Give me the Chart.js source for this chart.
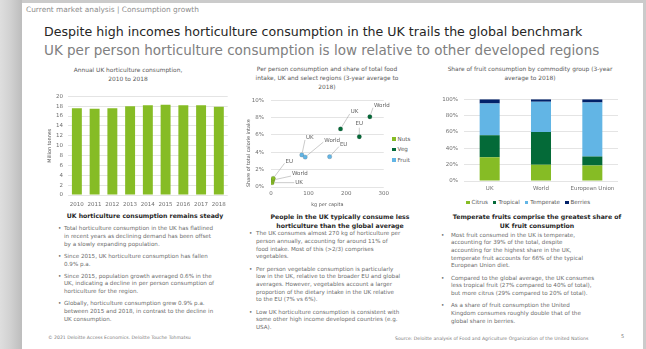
<!DOCTYPE html>
<html>
<head>
<meta charset="utf-8">
<title>Consumption growth</title>
<script src="https://cdn.jsdelivr.net/npm/chart.js@4.4.1/dist/chart.umd.min.js"></script>
<style>
  html, body { margin: 0; padding: 0; }
  body {
    width: 646px; height: 349px; overflow: hidden; position: relative;
    background: #cbcbcb;
    font-family: "DejaVu Sans", Verdana, sans-serif;
  }
  .frame { position: absolute; left: 0; top: 0; width: 22px; height: 349px;
    background: linear-gradient(to right, #dedede, #d2d2d2 45%, #bdbdbd); }
  .slide { position: absolute; left: 22px; top: 3px; width: 621px; height: 346px; background: #fff; }
  .abs { position: absolute; white-space: nowrap; }
  canvas { position: absolute; }

  .crumb { left: 26px; top: 6px; font-size: 7.4px; line-height: 8px; color: #8c8c8c; }
  .headline { left: 44px; top: 24px; font-size: 12.6px; line-height: 16px; color: #262626; }
  .subhead  { left: 44px; top: 42px; font-size: 13.5px; line-height: 16px; color: #808080; }

  .ctitle { font-size: 5.9px; line-height: 9px; color: #595959; text-align: center; }
  .colhead { font-size: 6.2px; line-height: 9px; font-weight: bold; color: #1f1f1f; text-align: center; }

  .bullets { font-size: 5.6px; line-height: 7.7px; color: #6b6b6b; }
  .bullets p { margin: 0 0 4.5px 0; position: relative; }
  .bullets p::before { content: "\2022"; position: absolute; }
  .c1 p::before { left: -6px; }
  .c2 p::before { left: -7px; }
  .c3 p::before { left: -10px; }

  .legend { font-size: 5.6px; line-height: 8px; color: #595959; }
  .legend i { display: inline-block; width: 3.5px; height: 3.5px; margin-right: 2px; vertical-align: 0; }

  .foot { font-size: 4.6px; color: #7a7a7a; }
</style>
</head>
<body>
<div class="frame"></div>
<div class="slide"></div>

<div class="abs crumb">Current market analysis | Consumption growth</div>
<div class="abs headline">Despite high incomes horticulture consumption in the UK trails the global benchmark</div>
<div class="abs subhead">UK per person horticulture consumption is low relative to other developed regions</div>

<!-- chart titles -->
<div class="abs ctitle" style="left:68px; top:65.5px; width:120px;">Annual UK horticulture consumption,<br>2010 to 2018</div>
<div class="abs ctitle" style="left:247px; top:64.5px; width:160px;">Per person consumption and share of total food<br>intake, UK and select regions (3-year average to<br>2018)</div>
<div class="abs ctitle" style="left:437px; top:64.5px; width:186px;">Share of fruit consumption by commodity group (3-year<br>average to 2018)</div>

<canvas id="annualChart" width="192" height="121" style="left:40px; top:88px;"></canvas>
<canvas id="scatterChart" width="152" height="119" style="left:240px; top:90px;"></canvas>
<canvas id="fruitChart" width="185" height="103" style="left:436px; top:90px;"></canvas>

<div id="scatterLegend" class="abs legend" style="left:392px; top:134.5px;"></div>
<div id="fruitLegend" class="abs legend" style="left:466px; top:198px;"></div>

<!-- commentary -->
<div class="abs colhead" style="left:50px; top:211px; width:190px;">UK horticulture consumption remains steady</div>
<div class="abs colhead" style="left:245px; top:211.5px; width:190px;">People in the UK typically consume less<br>horticulture than the global average</div>
<div class="abs colhead" style="left:437px; top:211.5px; width:200px;">Temperate fruits comprise the greatest share of<br>UK fruit consumption</div>

<div class="abs bullets c1" style="left:64px; top:225.2px;">
  <p>Total horticulture consumption in the UK has flatlined<br>in recent years as declining demand has been offset<br>by a slowly expanding population.</p>
  <p>Since 2015, UK horticulture consumption has fallen<br>0.9% p.a.</p>
  <p>Since 2015, population growth averaged 0.6% in the<br>UK, indicating a decline in per person consumption of<br>horticulture for the region.</p>
  <p>Globally, horticulture consumption grew 0.9% p.a.<br>between 2015 and 2018, in contrast to the decline in<br>UK consumption.</p>
</div>
<div class="abs bullets c2" style="left:256px; top:230.2px;">
  <p>The UK consumes almost 270 kg of horticulture per<br>person annually, accounting for around 11% of<br>food intake. Most of this (&gt;2/3) comprises<br>vegetables.</p>
  <p>Per person vegetable consumption is particularly<br>low in the UK, relative to the broader EU and global<br>averages. However, vegetables account a larger<br>proportion of the dietary intake in the UK relative<br>to the EU (7% vs 6%).</p>
  <p>Low UK horticulture consumption is consistent with<br>some other high income developed countries (e.g.<br>USA).</p>
</div>
<div class="abs bullets c3" style="left:451px; top:231.6px;">
  <p>Most fruit consumed in the UK is temperate,<br>accounting for 39% of the total, despite<br>accounting for the highest share in the UK,<br>temperate fruit accounts for 66% of the typical<br>European Union diet.</p>
  <p>Compared to the global average, the UK consumes<br>less tropical fruit (27% compared to 40% of total),<br>but more citrus (29% compared to 20% of total).</p>
  <p>As a share of fruit consumption the United<br>Kingdom consumes roughly double that of the<br>global share in berries.</p>
</div>

<div class="abs foot" style="left:48px; top:335px;">© 2021 Deloitte Access Economics. Deloitte Touche Tohmatsu</div>
<div class="abs foot" style="left:395px; top:336px;">Source: Deloitte analysis of Food and Agriculture Organization of the United Nations</div>
<div class="abs foot" style="left:621px; top:333px; font-size:5px;">5</div>

<script>
// ─── DATA ──────────────────────────────────────────────────
const years       = ['2010', '2011', '2012', '2013', '2014', '2015', '2016', '2017', '2018'];
const consumption = [17.6, 17.5, 17.6, 18.0, 18.2, 18.3, 18.2, 18.2, 17.9];   // million tonnes

const regions    = ['UK', 'World', 'EU'];
const nutsKg     = [3, 5, 6];
const nutsShare  = [0.5, 0.8, 1.0];
const vegKg      = [185, 263, 235];
const vegShare   = [6.7, 8.1, 5.8];
const fruitKg    = [82, 91, 156];
const fruitShare = [3.7, 3.45, 3.5];

const fruitRegions = ['UK', 'World', 'European Union'];
const citrus    = [29, 20, 19];
const tropical  = [27, 40, 11];
const temperate = [39, 37, 66];
const berries   = [5, 3, 4];

// ─── STYLE ─────────────────────────────────────────────────
const GREEN = '#86bc25', DARK_GREEN = '#046a38', BLUE = '#62b5e5', NAVY = '#012169';
const FONT  = { family: '"DejaVu Sans", Verdana, sans-serif', size: 5.5 };
const SMALL = { family: FONT.family, size: 4.9 };
const TICK  = '#6e6e6e';
const GRID  = '#e4e4e4';

// label offsets (px) for the scatter call-outs: [dx, dy] per region
const nutsOffsets  = [[27, 0], [27, -6], [16, -17]];
const vegOffsets   = [[14, -17], [12, -11], [0, -13]];
const fruitOffsets = [[8, -17], [27, -17], [14, -12]];

const fixWidth  = w => s => { s.width = w; };
const fixHeight = h => s => { s.height = h; };

Chart.defaults.font.family = FONT.family;
Chart.defaults.animation = false;
Chart.defaults.responsive = false;
Chart.defaults.plugins.tooltip.enabled = false;
Chart.defaults.plugins.legend.display = false;

// ─── ANNUAL CONSUMPTION BARS ───────────────────────────────
new Chart(document.getElementById('annualChart'), {
  type: 'bar',
  data: {
    labels: years,
    datasets: [{ data: consumption, backgroundColor: GREEN, barPercentage: 0.56, categoryPercentage: 1 }],
  },
  options: {
    layout: { padding: { top: 4, right: 3, left: 7, bottom: 0 } },
    scales: {
      y: {
        min: 0, max: 20,
        ticks: { stepSize: 2, font: FONT, color: TICK, padding: 5 },
        grid: { color: GRID, drawTicks: false },
        border: { display: false },
        title: { display: true, text: 'Million tonnes', font: SMALL, color: '#595959', padding: 0 },
        afterFit: fixWidth(21),
      },
      x: {
        ticks: { font: FONT, color: TICK, padding: 6, maxRotation: 0, autoSkip: false },
        grid: { display: false, drawTicks: false },
        border: { display: false },
        afterFit: fixHeight(14),
      },
    },
  },
});

// ─── PER-CAPITA SCATTER ────────────────────────────────────
const toPoints = (xs, ys) => xs.map((x, i) => ({ x, y: ys[i] }));

// region names with a thin leader line back to each point
const leaderLabels = {
  id: 'leaderLabels',
  afterDatasetsDraw(chart) {
    const ctx = chart.ctx;
    ctx.save();
    ctx.font = `${FONT.size}px ${FONT.family}`;
    ctx.textAlign = 'center';
    ctx.textBaseline = 'middle';
    chart.data.datasets.forEach((ds, di) => {
      chart.getDatasetMeta(di).data.forEach((pt, i) => {
        const [dx, dy] = ds.calloutOffsets[i];
        const lx = pt.x + dx, ly = pt.y + dy;
        const w  = ctx.measureText(regions[i]).width;
        let ex, ey;
        if (Math.abs(dx) > 4) { ex = lx - w / 2 - 1; ey = ly + (dy < -3 ? 2 : 0); }
        else                  { ex = lx;             ey = ly + 4; }
        const len = Math.hypot(ex - pt.x, ey - pt.y) || 1;
        ctx.strokeStyle = '#a8a8a8';
        ctx.lineWidth = 0.6;
        ctx.beginPath();
        ctx.moveTo(pt.x + (ex - pt.x) / len * 2.5, pt.y + (ey - pt.y) / len * 2.5);
        ctx.lineTo(ex, ey);
        ctx.stroke();
        ctx.fillStyle = '#5f5f5f';
        ctx.fillText(regions[i], lx, ly);
      });
    });
    ctx.restore();
  },
};

const scatterSets = [
  { label: 'Nuts',  data: toPoints(nutsKg, nutsShare),   color: GREEN,      calloutOffsets: nutsOffsets },
  { label: 'Veg',   data: toPoints(vegKg, vegShare),     color: DARK_GREEN, calloutOffsets: vegOffsets },
  { label: 'Fruit', data: toPoints(fruitKg, fruitShare), color: BLUE,       calloutOffsets: fruitOffsets },
];

new Chart(document.getElementById('scatterChart'), {
  type: 'scatter',
  data: {
    datasets: scatterSets.map(s => ({
      label: s.label, data: s.data, calloutOffsets: s.calloutOffsets,
      backgroundColor: s.color, borderColor: 'rgba(60,60,60,.35)', borderWidth: 0.5,
      pointRadius: 2.2,
    })),
  },
  options: {
    layout: { padding: { top: 4, right: 3, left: 6, bottom: 0 } },
    scales: {
      y: {
        min: 0, max: 10,
        ticks: { stepSize: 2, font: FONT, color: TICK, padding: 7, callback: v => v + '%' },
        grid: { color: GRID, drawTicks: false },
        border: { display: false },
        title: { display: true, text: 'Share of total calorie intake', align: 'start',
                 font: SMALL, color: '#595959', padding: 0 },
        afterFit: fixWidth(25),
      },
      x: {
        min: 0, max: 300,
        ticks: { stepSize: 100, font: FONT, color: TICK, padding: 3 },
        grid: { display: false, drawTicks: false },
        border: { display: false },
        title: { display: true, text: 'kg per capita', font: SMALL, color: '#595959', padding: 1 },
        afterFit: fixHeight(22),
      },
    },
  },
  plugins: [leaderLabels],
});

// ─── FRUIT MIX (100% STACKED) ──────────────────────────────
const fruitSets = [
  { label: 'Citrus',    data: citrus,    color: GREEN },
  { label: 'Tropical',  data: tropical,  color: DARK_GREEN },
  { label: 'Temperate', data: temperate, color: BLUE },
  { label: 'Berries',   data: berries,   color: NAVY },
];

new Chart(document.getElementById('fruitChart'), {
  type: 'bar',
  data: {
    labels: fruitRegions,
    datasets: fruitSets.map(s => ({
      label: s.label, data: s.data, backgroundColor: s.color,
      barPercentage: 0.39, categoryPercentage: 1,
    })),
  },
  options: {
    layout: { padding: { top: 4, right: 3, left: 0, bottom: 0 } },
    scales: {
      y: {
        stacked: true, min: 0, max: 100,
        ticks: { stepSize: 20, font: FONT, color: TICK, padding: 6, callback: v => v + '%' },
        grid: { color: GRID, drawTicks: false },
        border: { display: false },
        afterFit: fixWidth(28),
      },
      x: {
        stacked: true,
        ticks: { font: FONT, color: TICK, padding: 4 },
        grid: { display: false, drawTicks: false },
        border: { display: false },
        afterFit: fixHeight(12),
      },
    },
  },
});

// ─── HTML LEGENDS ──────────────────────────────────────────
function buildLegend(id, items, vertical) {
  const el = document.getElementById(id);
  el.innerHTML = items.map(s =>
    `<span style="display:${vertical ? 'block' : 'inline-block'};margin:${vertical ? '0 0 2.6px 0' : '0 5px 0 0'};">` +
    `<i style="background:${s.color};"></i>${s.label}</span>`).join('');
}
buildLegend('scatterLegend', scatterSets, true);
buildLegend('fruitLegend', fruitSets, false);
</script>
</body>
</html>
